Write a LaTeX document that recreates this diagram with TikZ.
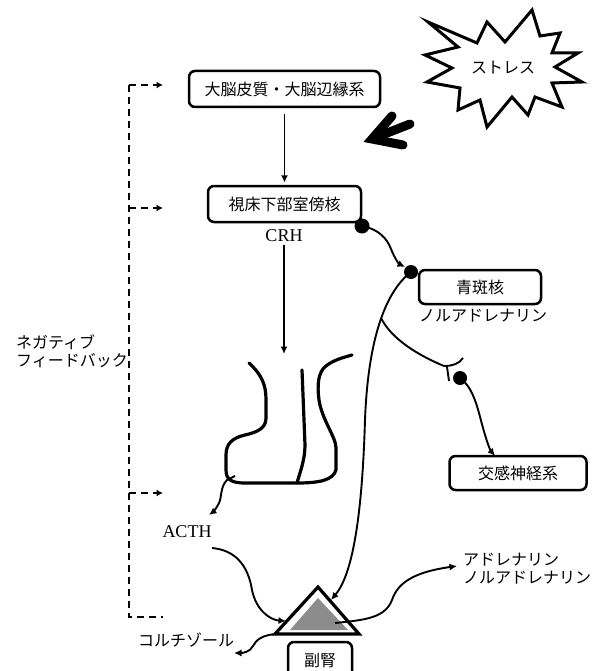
\documentclass[tikz,border=0pt]{standalone}
\usepackage{fontspec}
\usetikzlibrary{arrows.meta}
\newfontfamily\jpfont{Noto Sans CJK JP}
\newfontfamily\latfont{Liberation Serif}
\begin{document}
\begin{tikzpicture}[x=1pt,y=-1pt,
  every node/.style={inner sep=0pt},
  jp/.style={font=\jpfont\fontsize{16}{18}\selectfont},
  lat/.style={font=\latfont\fontsize{18}{20}\selectfont},
  organ/.style={draw, rounded corners=6pt, line width=2.5pt, jp},
  link/.style={line width=1.9pt, -{Latex[length=7.5pt,width=7pt]}},
  fb/.style={line width=2.2pt, dash pattern=on 7pt off 5pt},
  fbarrow/.style={fb, -{Latex[length=6.5pt,width=7pt]}},
  syn/.style={circle, fill=black, minimum size=15pt},
  gland/.style={line width=3.2pt, line cap=round, line join=round},
  burst/.style={line width=3pt, line join=miter},
]
\useasboundingbox (0,0) rectangle (599,671);

% ---- stress burst and its arrow ----
\draw[burst] (428,22) -- (477,43) -- (487,22) -- (505,42) -- (532,10) -- (540,36)
  -- (560,33) -- (552,53) -- (578,53) -- (555,67) -- (582,82) -- (552,83)
  -- (562,107) -- (535,97) -- (528,115) -- (512,97) -- (487,127) -- (480,100)
  -- (458,110) -- (460,88) -- (427,82) -- (452,68) -- (425,55) -- (458,47) -- cycle;
\node[jp] (stress) at (503,68) {ストレス};
\draw[line width=9pt, line cap=round, line join=miter] (392,116) -- (372,139) -- (403,145);
\draw[line width=9pt, line cap=round] (410,124) -- (382,135);

% ---- boxes and labels ----
\node[organ, minimum width=191pt, minimum height=36pt] (cortex) at (284.5,89) {大脳皮質・大脳辺縁系};
\node[organ, minimum width=153pt, minimum height=36pt] (pvn) at (284.5,204) {視床下部室傍核};
\node[lat] (crh) at (284,236) {CRH};
\node[organ, minimum width=122pt, minimum height=34pt] (lc) at (480,287) {青斑核};
\node[jp] (na) at (483,316) {ノルアドレナリン};
\node[organ, minimum width=137pt, minimum height=34pt] (sns) at (518,473) {交感神経系};
\node[lat] (acth) at (187,532) {ACTH};
\node[organ, minimum width=64pt, minimum height=38pt] (adrenal) at (320,661) {副腎};
\node[jp, align=left, anchor=west] (cat) at (463,569) {アドレナリン\\ノルアドレナリン};
\node[jp] (cort) at (186,640) {コルチゾール};
\node[jp, align=left, anchor=east] (neg) at (128,351) {ネガティブ\\フィードバック};

% ---- free ends of connectors ----
\coordinate (ant) at (284,354);
\coordinate (br) at (381,318);
\coordinate (snsin) at (495,456);
\coordinate (pitout) at (235,476);
\coordinate (acthin) at (209,515);
\coordinate (acthout) at (212,548);
\coordinate (adrL) at (286,621);
\coordinate (adrR) at (331,600);
\coordinate (medulla) at (335,623);
\coordinate (catin) at (457,566);
\coordinate (cortexL) at (276,634);
\coordinate (cortin) at (234,653);
\coordinate (fb1) at (163,85);
\coordinate (fb2) at (163,208);
\coordinate (fb3) at (163,493);
\coordinate (fb4) at (163,617);

% ---- main axis ----
\draw[link, shorten <=6pt, shorten >=2pt] (cortex) -- (pvn);
\draw[link, shorten <=3pt] (crh) -- (ant);

% ---- pituitary ----
\draw[gland] (249,363) .. controls (262,375) and (266,385) .. (266,400) -- (266,418)
  .. controls (266,428) and (258,432) .. (245,435) .. controls (232,438) and (226,444) .. (226,455)
  -- (226,470) .. controls (226,480) and (232,483) .. (245,483) -- (297,483)
  .. controls (320,483) and (333,480) .. (336,470) -- (336,448)
  .. controls (336,437) and (322,420) .. (319,400) .. controls (317,385) and (318,372) .. (326,366)
  .. controls (333,360) and (345,357) .. (352,355);
\draw[gland] (302,370) -- (305,445) .. controls (305,460) and (300,472) .. (297,483);
\draw[link] (pitout) -- (227,480) .. controls (220,487) and (222,497) .. (219,503)
  .. controls (216,509) and (213,512) .. (acthin);

% ---- locus coeruleus pathways ----
\draw[link] (362,226) .. controls (378,229) and (387,238) .. (391,249)
  .. controls (395,259) and (399,264) .. (405,267);
\draw[link] (411,272) .. controls (385,292) and (368,340) .. (365,420)
  .. controls (362,520) and (352,575) .. (adrR);
\draw[line width=1.9pt] (br) .. controls (392,340) and (420,356) .. (444,366)
  .. controls (452,366) and (459,364) .. (463,358);
\draw[line width=1.9pt] (447,367) -- (449,381);
\draw[link] (460,378) .. controls (474,388) and (478,410) .. (483,428)
  .. controls (487,442) and (490,450) .. (snsin);
\node[syn] (d1) at (362,226) {};
\node[syn, minimum size=14pt] (d2) at (411,272) {};
\node[syn, minimum size=14pt] (d3) at (460,378) {};

% ---- adrenal gland ----
\fill[black!45] (318,598) -- (290,630) -- (348,630) -- cycle;
\draw[line width=3.2pt, line join=miter] (275,634) -- (318,587) -- (359,634) -- cycle;
\draw[link] (acthout) .. controls (235,550) and (248,565) .. (252,590)
  .. controls (256,610) and (270,620) .. (adrL);
\draw[link] (medulla) .. controls (365,620) and (385,618) .. (392,600)
  .. controls (398,582) and (415,572) .. (catin);
\draw[link] (cortexL) .. controls (262,635) and (256,640) .. (253,646)
  .. controls (250,652) and (243,653) .. (cortin);

% ---- negative feedback ----
\draw[fb] (129,85) -- (129,617) -- (fb4);
\draw[fbarrow] (129,85) -- (fb1);
\draw[fbarrow] (129,208) -- (fb2);
\draw[fbarrow] (129,493) -- (fb3);
\end{tikzpicture}
\end{document}
